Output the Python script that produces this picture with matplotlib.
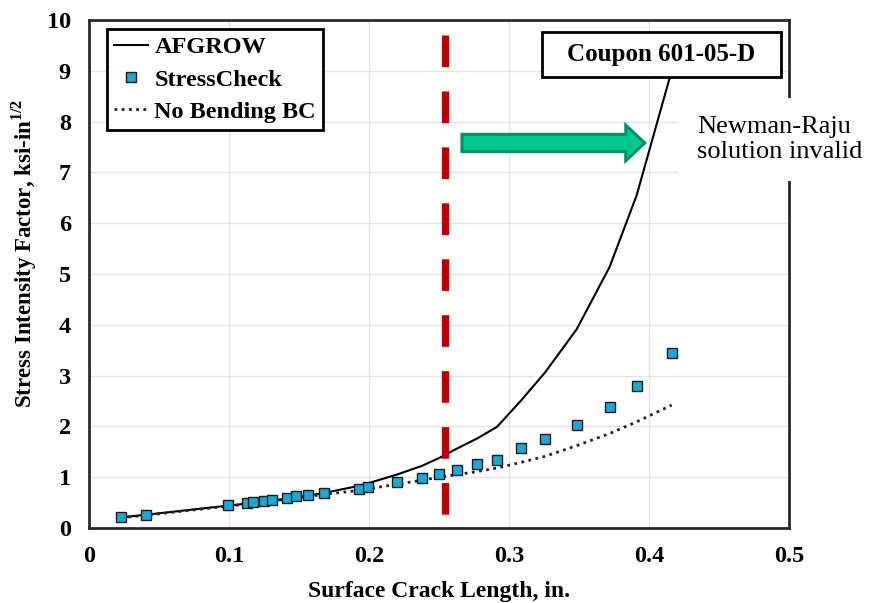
import numpy as np
import matplotlib
matplotlib.use("Agg")
import matplotlib.pyplot as plt
from matplotlib.patches import FancyArrow, Rectangle

plt.rcParams['font.family'] = 'Liberation Serif'
plt.rcParams['mathtext.fontset'] = 'custom'
plt.rcParams['mathtext.rm'] = 'Liberation Serif'
plt.rcParams['mathtext.bf'] = 'Liberation Serif:bold'

# crack length (in.) shared by all three series
crack_len = [0.0229, 0.0405, 0.0993, 0.1126, 0.1174, 0.1250, 0.1305, 0.1417,
             0.1476, 0.1562, 0.1679, 0.1929, 0.1993, 0.2198, 0.2376, 0.2502,
             0.2626, 0.2771, 0.2914, 0.3083, 0.3257, 0.3483, 0.3719, 0.3912,
             0.4162]

afgrow = [0.21, 0.26, 0.44, 0.48, 0.50, 0.52, 0.54, 0.58,
          0.61, 0.64, 0.69, 0.83, 0.88, 1.05, 1.22, 1.38,
          1.56, 1.76, 1.99, 2.50, 3.06, 3.91, 5.14, 6.55,
          9.00]

stresscheck = [0.21, 0.26, 0.45, 0.49, 0.52, 0.54, 0.56, 0.59,
               0.62, 0.64, 0.68, 0.76, 0.80, 0.90, 0.98, 1.06,
               1.14, 1.25, 1.33, 1.57, 1.75, 2.02, 2.38, 2.79,
               3.44]

no_bending = [0.20, 0.25, 0.43, 0.47, 0.49, 0.51, 0.53, 0.57,
              0.59, 0.62, 0.66, 0.74, 0.77, 0.86, 0.94, 1.00,
              1.05, 1.11, 1.18, 1.29, 1.41, 1.62, 1.86, 2.09,
              2.42]

limit_x = 0.254   # Newman-Raju validity limit

fig = plt.figure(figsize=(8.75, 6.03), dpi=100)
ax = fig.add_axes([0.1017, 0.1244, 0.8, 0.8424])

ax.plot(crack_len, afgrow, color='black', lw=1.5, label='AFGROW', zorder=3)
ax.plot(crack_len, stresscheck, ls='none', marker='s', ms=6.8, mfc='#1aa8d8',
        mec='#1a1a1a', mew=1.0, label='StressCheck', zorder=4)
ax.plot(crack_len, no_bending, color='#222222', lw=2, ls=(0, (1, 1.6)),
        label='No Bending BC', zorder=3)

# red dashed limit line
ax.plot([limit_x, limit_x], [9.7, 0.26], color='#c00000', lw=5.3,
        dashes=(4.3, 3.3), solid_capstyle='butt', dash_capstyle='butt', zorder=3)

# green arrow
ax.add_patch(FancyArrow(0.2664, 7.58, 0.1306, 0, width=0.34, head_width=0.70,
                        head_length=0.0136, length_includes_head=True,
                        fc='#00c98f', ec='#00916b', lw=2.2, zorder=4))

ax.set_xlim(0, 0.5)
ax.set_ylim(0, 10)
ax.set_xticks(np.arange(0, 0.51, 0.1))
ax.set_xticklabels(['0', '0.1', '0.2', '0.3', '0.4', '0.5'])
ax.set_yticks(range(0, 11))
ax.tick_params(length=0, labelsize=17.5, pad=13)
for lab in ax.get_xticklabels() + ax.get_yticklabels():
    lab.set_fontweight('bold')

ax.grid(True, color='#e4e4e4', lw=1.0)
ax.set_axisbelow(True)
for s in ax.spines.values():
    s.set_color('#2a2a2a')
    s.set_linewidth(2)

ax.set_xlabel('Surface Crack Length, in.', fontsize=17, fontweight='bold', labelpad=10)
ax.set_ylabel('Stress Intensity Factor, ksi-in$^{\\mathbf{1/2}}$', fontsize=16.5,
              fontweight='bold')
ax.yaxis.set_label_coords(-0.072, 0.54)

leg = ax.legend(loc='upper left', bbox_to_anchor=(0.0257, 0.982), borderaxespad=0,
                prop={'weight': 'bold', 'size': 17.5}, frameon=True, fancybox=False,
                edgecolor='black', handlelength=1.4, handletextpad=0.25,
                labelspacing=0.42, borderpad=0.3, numpoints=1, framealpha=1)
leg.get_frame().set_linewidth(2)

# coupon label box
ax.add_patch(Rectangle((0.6467, 0.8884), 0.3419, 0.0886, transform=ax.transAxes,
                       fc='white', ec='black', lw=2, zorder=5, clip_on=False))
ax.text(0.8177, 0.9327, 'Coupon 601-05-D', transform=ax.transAxes, ha='center',
        va='center', fontsize=18, fontweight='bold', zorder=6)

ax.text(0.869, 0.765, 'Newman-Raju\nsolution invalid', transform=ax.transAxes,
        ha='left', va='center', fontsize=19, linespacing=1.15, zorder=6,
        clip_on=False,
        bbox=dict(boxstyle='square,pad=0.7', fc='white', ec='none'))

fig.savefig('out.png', dpi=100)
